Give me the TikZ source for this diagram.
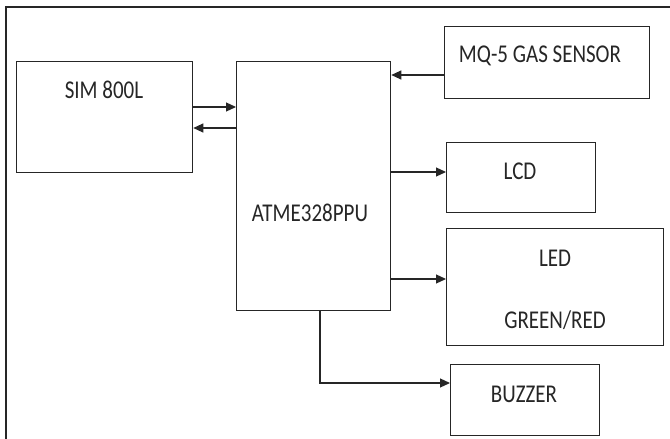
\documentclass[tikz,border=0pt]{standalone}
\usepackage{fontspec}
\setmainfont{Carlito}
\usetikzlibrary{arrows.meta}
\newcommand{\tall}[1]{\scalebox{1}[1.22]{#1}}
\begin{document}
\begin{tikzpicture}[x=1pt,y=-1pt,
  box/.style={draw=black!85,line width=1.3pt,inner sep=0pt,anchor=north west},
  lbl/.style={font=\fontsize{21}{25}\selectfont,text=black!85,inner sep=0pt},
  arr/.style={draw=black!85,line width=1.2pt,-{Triangle[length=10pt,width=9pt]}}]
\useasboundingbox (0,0) rectangle (670,439);
\begin{scope}
\clip (0,0) rectangle (670,439);
\draw[line width=1.3pt,black!85] (6,7) rectangle (690,460);
\end{scope}
\node[box,minimum width=176pt,minimum height=111pt] (sim) at (16,61) {};
\node[box,minimum width=154pt,minimum height=249pt] (mcu) at (236,61) {};
\node[box,minimum width=205pt,minimum height=72pt] (mq) at (444,26) {};
\node[box,minimum width=149pt,minimum height=70pt] (lcd) at (446,142) {};
\node[box,minimum width=217pt,minimum height=117pt] (led) at (446,228) {};
\node[box,minimum width=149pt,minimum height=71pt] (buz) at (450,364) {};
\node[lbl] (tsim) at (104,90) {\tall{SIM 800L}};
\node[lbl] (tmcu) at (310,213) {\tall{ATME328PPU}};
\node[lbl] (tmq) at (540,56) {\tall{MQ-5 GAS SENSOR}};
\node[lbl] (tlcd) at (520,171) {\tall{LCD}};
\node[lbl] (tled) at (555,258) {\tall{LED}};
\node[lbl] (tgr) at (555,320) {\tall{GREEN/RED}};
\node[lbl] (tbuz) at (524,394) {\tall{BUZZER}};
\draw[arr] (sim.east|-0,107) -- (mcu.west|-0,107);
\draw[arr] (mcu.west|-0,128) -- (sim.east|-0,128);
\draw[arr] (mq.west|-0,75) -- (mcu.east|-0,75);
\draw[arr] (mcu.east|-0,172) -- (lcd.west|-0,172);
\draw[arr] (mcu.east|-0,279) -- (led.west|-0,279);
\draw[arr] (mcu.south-|320,0) |- (buz.west|-0,383);
\end{tikzpicture}
\end{document}
